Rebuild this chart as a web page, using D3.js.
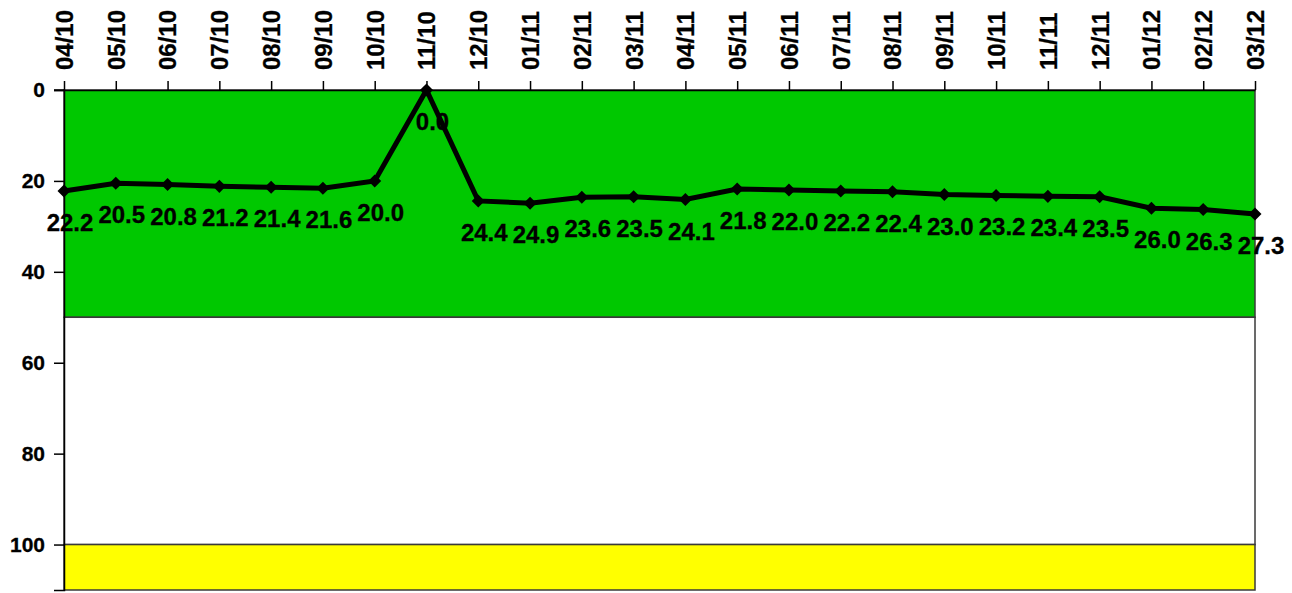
<!DOCTYPE html>
<html>
<head>
<meta charset="utf-8">
<script src="https://cdn.jsdelivr.net/npm/d3@7"></script>
<style>
  body { margin: 0; background: #fff; }
  text { font-family: "Liberation Sans", Arial, sans-serif; font-weight: bold; }
</style>
</head>
<body>
<script>
// data
let months = ['04/10', '05/10', '06/10', '07/10', '08/10', '09/10', '10/10', '11/10', '12/10',
    '01/11', '02/11', '03/11', '04/11', '05/11', '06/11', '07/11', '08/11', '09/11', '10/11',
    '11/11', '12/11', '01/12', '02/12', '03/12']
let values = [22.2, 20.5, 20.8, 21.2, 21.4, 21.6, 20.0, 0.0, 24.4, 24.9, 23.6, 23.5, 24.1,
    21.8, 22.0, 22.2, 22.4, 23.0, 23.2, 23.4, 23.5, 26.0, 26.3, 27.3]
let yTicks = [0, 20, 40, 60, 80, 100]
let bandLimits = [[0, 50], [50, 100], [100, 110]]
let bandColors = ['#00c800', '#ffffff', '#ffff00']

{
    let width = 1292
    let height = 593
    let left = 64, right = 1255, top = 90, bottom = 590

    let svg = d3.select('body').append('svg')
        .attr('width', width)
        .attr('height', height)

    let x = d3.scalePoint().domain(months).range([left, right])
    let y = d3.scaleLinear().domain([0, 110]).range([top, bottom])

    // background bands
    svg.append('g').selectAll('rect').data(bandLimits)
        .enter()
        .append('rect')
        .attr('x', left)
        .attr('y', d => y(d[0]))
        .attr('width', right - left)
        .attr('height', d => y(d[1]) - y(d[0]))
        .attr('fill', (d, i) => bandColors[i])
        .attr('stroke', '#3a3a3a')
        .attr('stroke-width', 1.5)

    // y axis
    let yAxis = svg.append('g')
        .attr('transform', `translate(${left},0)`)
        .call(d3.axisLeft(y).tickValues(yTicks).tickSize(10).tickPadding(9))
    yAxis.selectAll('text').attr('font-size', 21).attr('fill', '#000')
        .attr('stroke', '#000').attr('stroke-width', 0.3)
    yAxis.selectAll('line').attr('stroke', '#000').attr('stroke-width', 1.5)
    yAxis.select('.domain').attr('stroke', '#000').attr('stroke-width', 1.5)

    // x axis on top, rotated labels
    let xAxis = svg.append('g')
        .attr('transform', `translate(0,${top})`)
        .call(d3.axisTop(x).tickSize(9).tickSizeOuter(0))
    xAxis.selectAll('text')
        .attr('font-size', 24)
        .attr('fill', '#000')
        .attr('stroke', '#000').attr('stroke-width', 0.3)
        .attr('transform', 'rotate(-90)')
        .attr('x', 20)
        .attr('y', 0)
        .attr('dy', '0.35em')
        .attr('text-anchor', 'start')
    xAxis.selectAll('line').attr('stroke', '#000').attr('stroke-width', 1.5)
    xAxis.select('.domain').attr('stroke', '#000').attr('stroke-width', 1.5)
    xAxis.append('line')
        .attr('x1', left - 10).attr('x2', left)
        .attr('stroke', '#000').attr('stroke-width', 1.5)

    // data labels
    svg.append('g').selectAll('text').data(values)
        .enter()
        .append('text')
        .attr('x', (d, i) => x(months[i]) + 6)
        .attr('y', d => y(d) + 40)
        .attr('text-anchor', 'middle')
        .attr('font-size', 24)
        .attr('fill', '#000')
        .attr('stroke', '#000').attr('stroke-width', 0.3)
        .text(d => d.toFixed(1))

    // line
    let line = d3.line()
        .x((d, i) => x(months[i]))
        .y(d => y(d))
    svg.append('path')
        .datum(values)
        .attr('d', line)
        .attr('stroke', '#000')
        .attr('stroke-width', 5)
        .attr('fill', 'none')

    // diamond markers
    let diamond = d3.symbol().type(d3.symbolSquare).size(85)
    svg.append('g').selectAll('path').data(values)
        .enter()
        .append('path')
        .attr('d', diamond)
        .attr('transform', (d, i) => `translate(${x(months[i])},${y(d)}) rotate(45)`)
        .attr('fill', '#000')
}
</script>
</body>
</html>
